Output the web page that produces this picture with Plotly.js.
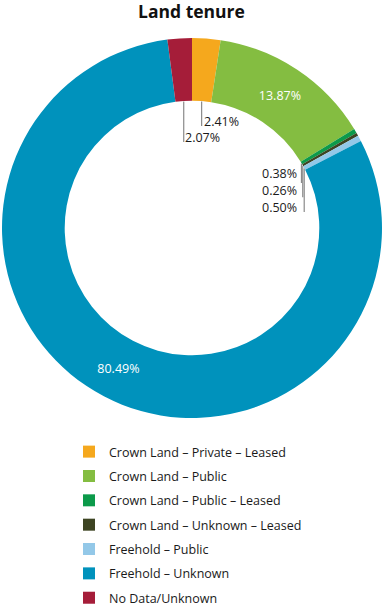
<!DOCTYPE html>
<html>
<head>
<meta charset="utf-8">
<script src="https://cdn.plot.ly/plotly-3.0.1.min.js"></script>
<style>html,body{margin:0;padding:0;background:#fff;}#chart{width:383px;height:606px;}</style>
</head>
<body>
<div id="chart"></div>
<script>
var labels = [
  "Crown Land – Private – Leased",
  "Crown Land – Public",
  "Crown Land – Public – Leased",
  "Crown Land – Unknown – Leased",
  "Freehold – Public",
  "Freehold – Unknown",
  "No Data/Unknown"
];
var values = [2.41, 13.87, 0.38, 0.26, 0.50, 80.49, 2.07];
var colors = ["#F5A81D", "#84BD41", "#0C9A4A", "#3D4422", "#93C8E8", "#0092BC", "#A51D39"];
var insideText = [false, true, false, false, false, true, false];

// layout geometry (pixels)
var W = 383, H = 606;
var M = {l: 2, r: 1, t: 38, b: 188, autoexpand: false};
var PW = W - M.l - M.r, PH = H - M.t - M.b;
var HOLE = 0.67;
var FONT = "Open Sans, Noto Sans, sans-serif";

// leader-line styling for the small slices: line length, text offset, anchor
var leaders = {
  0: {len: 25, tdx: 1.5, tdy: 20, anchor: "left"},
  6: {len: 41, tdx: 0.5, tdy: 36.5, anchor: "left"},
  2: {len: 20, tdx: -3, tdy: 10, anchor: "right"},
  3: {len: 32, tdx: -4.3, tdy: 25.5, anchor: "right"},
  4: {len: 44, tdx: -5.8, tdy: 39.5, anchor: "right"}
};

var total = values.reduce(function(a, b){ return a + b; }, 0);
var cx = M.l + PW / 2, cy = M.t + PH / 2;
var R = Math.min(PW, PH) / 2, rIn = R * HOLE;
function px2x(px){ return (px - M.l) / PW; }
function py2y(py){ return 1 - (py - M.t) / PH; }

var shapes = [], annotations = [];
var cum = 0;
values.forEach(function(v, i){
  var mid = (cum + v / 2) / total * 2 * Math.PI;
  cum += v;
  var L = leaders[i];
  if (!L) return;
  var x0 = cx + rIn * Math.sin(mid), y0 = cy - rIn * Math.cos(mid);
  shapes.push({type: "line", xref: "paper", yref: "paper",
    x0: px2x(x0), x1: px2x(x0), y0: py2y(y0 + 0.5), y1: py2y(y0 + L.len),
    line: {color: "#8a8a8a", width: 1.2}});
  annotations.push({xref: "paper", yref: "paper", x: px2x(x0 + L.tdx), y: py2y(y0 + L.tdy),
    text: v.toFixed(2) + "%", showarrow: false, xanchor: L.anchor, yanchor: "middle",
    font: {family: FONT, size: 12.5, color: "#1a1a1a"}, borderpad: 0});
});

var pie = {
  type: "pie", labels: labels, values: values, sort: false, direction: "clockwise",
  rotation: 0, hole: HOLE, showlegend: false,
  marker: {colors: colors, line: {width: 0}},
  texttemplate: "%{value:.2f}%",
  textposition: insideText.map(function(s){ return s ? "inside" : "none"; }),
  insidetextorientation: "horizontal",
  textfont: {family: FONT, size: 12.5, color: "#ffffff"},
  domain: {x: [0, 1], y: [0, 1]}
};

var legendTraces = labels.map(function(l, i){
  return {type: "scatter", x: [null], y: [null], mode: "markers", name: l,
    legendgroup: "g" + i, showlegend: true, hoverinfo: "skip",
    marker: {symbol: "square", size: 12, color: colors[i]}};
});

var layout = {
  width: W, height: H, margin: M, paper_bgcolor: "#fff", plot_bgcolor: "rgba(0,0,0,0)",
  font: {family: FONT, color: "#1a1a1a"},
  title: {text: "<b>Land tenure</b>", xref: "container", x: 0.5, xanchor: "center",
    yref: "container", y: 1 - 12 / H, yanchor: "middle", font: {family: FONT, size: 17.5, color: "#111"}},
  xaxis: {visible: false}, yaxis: {visible: false},
  showlegend: true,
  legend: {xref: "container", yref: "container", x: 69 / W, y: 1 - 437 / H,
    xanchor: "left", yanchor: "top", tracegroupgap: 5.1, itemwidth: 30,
    font: {family: FONT, size: 12.5, color: "#1a1a1a"}, bgcolor: "rgba(0,0,0,0)"},
  shapes: shapes, annotations: annotations
};

Plotly.newPlot("chart", legendTraces.concat([pie]), layout, {displayModeBar: false, staticPlot: true});
</script>
</body>
</html>
